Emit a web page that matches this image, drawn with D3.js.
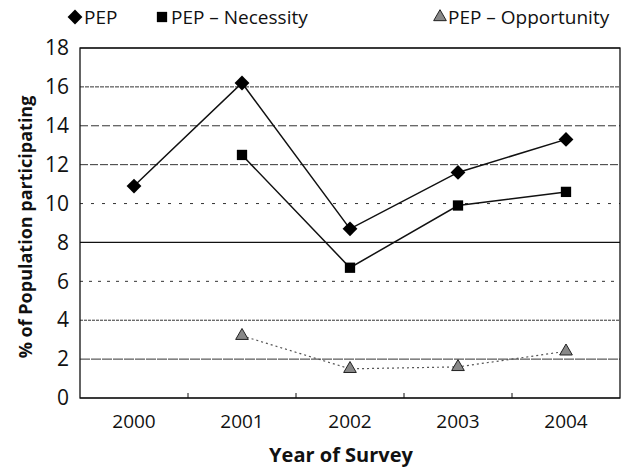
<!DOCTYPE html>
<html><head><meta charset="utf-8">
<script src="https://cdn.jsdelivr.net/npm/d3@7"></script>
<style>body{margin:0;background:#fff}svg{display:block}</style>
</head><body>
<script>
const years = ["2000","2001","2002","2003","2004"];
const pep = [10.9, 16.2, 8.7, 11.6, 13.3];
const necessity = [null, 12.5, 6.7, 9.9, 10.6];
const opportunity = [null, 3.2, 1.5, 1.6, 2.4];
const yTicks = [0,2,4,6,8,10,12,14,16,18];
const legendLabels = ["PEP","PEP \u2013 Necessity","PEP \u2013 Opportunity"];

const W = 631, H = 470;
const m = {left: 80, right: 11, top: 48, bottom: 72};
const svg = d3.select("body").append("svg").attr("width", W).attr("height", H);
const font = "'Open Sans', 'Noto Sans', sans-serif";

const x = d3.scaleBand().domain(years).range([m.left, W - m.right]);
const y = d3.scaleLinear().domain([0, 18]).range([H - m.bottom, m.top]);

// gridlines
const dashes = {0:null,2:"10,1",4:"3,1",6:"3,6",8:null,10:"3,8",12:"8,2",14:"8,3",16:"4,1",18:null};
svg.append("g").selectAll("line").data(yTicks).join("line")
  .attr("x1", m.left).attr("x2", W - m.right)
  .attr("y1", d => y(d)).attr("y2", d => y(d))
  .attr("stroke", d => (d===8||d===18||d===0) ? "#111" : "#333")
  .attr("stroke-width", d => (d===8||d===18||d===0) ? 1.2 : 1)
  .attr("stroke-dasharray", d => dashes[d]);

// frame
svg.append("rect").attr("x", m.left).attr("y", m.top)
  .attr("width", W - m.right - m.left).attr("height", y(0) - m.top)
  .attr("fill", "none").attr("stroke", "#111").attr("stroke-width", 1.3);

// y axis
const ya = svg.append("g").attr("transform", `translate(${m.left},0)`)
  .call(d3.axisLeft(y).tickValues(yTicks).tickSize(0).tickPadding(11));
ya.select(".domain").remove();
ya.selectAll("text").attr("font-family", font).attr("font-size", 21).attr("fill", "#111");

// x axis
const xa = svg.append("g").attr("transform", `translate(0,${y(0)})`)
  .call(d3.axisBottom(x).tickSize(0).tickPadding(17));
xa.select(".domain").remove();
xa.selectAll("text").attr("font-family", font).attr("font-size", 19).attr("fill", "#111");
// tick marks at band boundaries
svg.append("g").selectAll("line").data(years.slice(1)).join("line")
  .attr("x1", d => x(d)).attr("x2", d => x(d))
  .attr("y1", y(0)).attr("y2", y(0) - 5).attr("stroke", "#111");

// titles
svg.append("text").attr("x", 341).attr("y", 462)
  .attr("text-anchor", "middle").attr("font-family", font).attr("font-weight", "bold")
  .attr("font-size", 20).attr("fill", "#111").text("Year of Survey");
svg.append("text").attr("transform", `translate(32,${(m.top + y(0))/2 + 4}) rotate(-90)`)
  .attr("text-anchor", "middle").attr("font-family", font).attr("font-weight", "bold")
  .attr("font-size", 18).attr("fill", "#111").text("% of Population participating");

const cx = d => x(d) + x.bandwidth()/2;
function series(vals, opts) {
  const pts = years.map((yr, i) => ({yr, v: vals[i]})).filter(d => d.v != null);
  const line = d3.line().x(d => cx(d.yr)).y(d => y(d.v));
  svg.append("path").datum(pts).attr("d", line).attr("fill", "none")
    .attr("stroke", opts.stroke).attr("stroke-width", opts.sw)
    .attr("stroke-dasharray", opts.dash || null);
  svg.append("g").selectAll("path").data(pts).join("path")
    .attr("transform", d => `translate(${cx(d.yr)},${y(d.v)})`)
    .attr("d", d3.symbol().type(opts.sym).size(opts.size)())
    .attr("fill", opts.fill).attr("stroke", opts.mstroke || "none").attr("stroke-width", 1);
}
series(pep, {stroke:"#111", sw:1.5, sym:d3.symbolDiamond2, size:140, fill:"#000"});
series(necessity, {stroke:"#111", sw:1.5, sym:d3.symbolSquare2, size:135, fill:"#000"});
series(opportunity, {stroke:"#555", sw:1.2, dash:"2,3", sym:d3.symbolTriangle2, size:115, fill:"#888", mstroke:"#222"});

// legend
const leg = [
  {sym:d3.symbolDiamond2, size:140, fill:"#000", sx:75, tx:84},
  {sym:d3.symbolSquare2, size:135, fill:"#000", sx:162, tx:171},
  {sym:d3.symbolTriangle2, size:115, fill:"#888", stroke:"#222", sx:440, tx:448}
];
leg.forEach((l, i) => {
  svg.append("path").attr("transform", `translate(${l.sx},17)`)
    .attr("d", d3.symbol().type(l.sym).size(l.size)())
    .attr("fill", l.fill).attr("stroke", l.stroke || "none");
  svg.append("text").attr("x", l.tx).attr("y", 24).attr("font-family", font)
    .attr("font-size", 19).attr("fill", "#111").text(legendLabels[i]);
});
</script>
</body></html>
